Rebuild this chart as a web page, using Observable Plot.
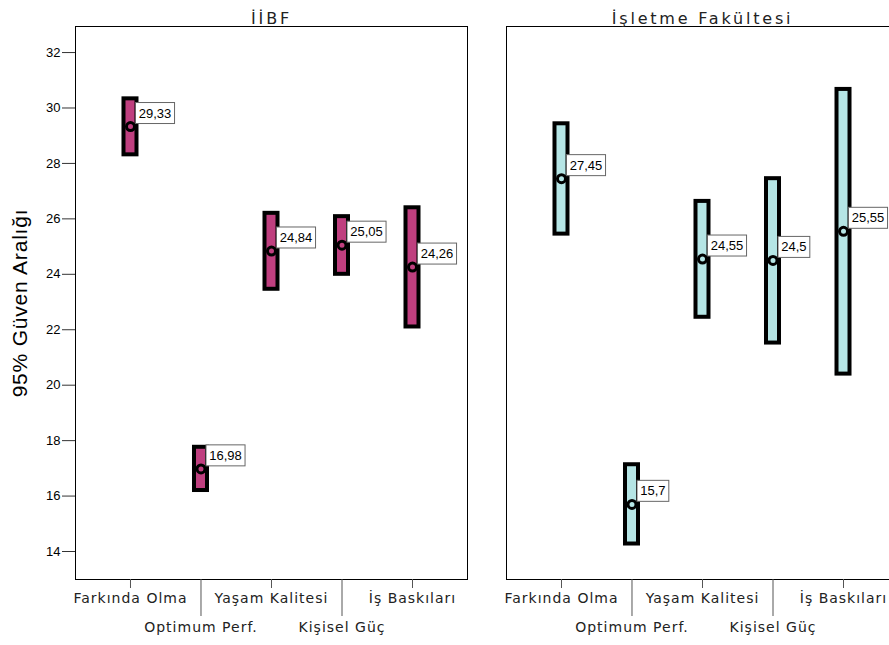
<!DOCTYPE html>
<html><head><meta charset="utf-8">
<script src="https://cdn.jsdelivr.net/npm/d3@7"></script>
<script src="https://cdn.jsdelivr.net/npm/@observablehq/plot@0.6"></script>
<style>
body{margin:0;background:#fff}
#chart{width:889px;height:645px;overflow:hidden}
#chart svg{max-width:none !important;height:645px !important}
#chart g[aria-label="y-axis label"]{font-size:21px;font-family:'Liberation Sans',Arial,sans-serif;letter-spacing:0.8px}
#chart g[aria-label="y-axis tick label"]{font-size:13px;font-family:'Liberation Sans',Arial,sans-serif}
#chart g[aria-label="x-axis tick label"]{font-size:14px;font-family:'DejaVu Sans',Verdana,sans-serif;letter-spacing:1px}
#chart g[aria-label="fx-axis tick label"]{font-size:16px;font-family:'DejaVu Sans',Verdana,sans-serif;letter-spacing:2.8px}
#chart g[aria-label="text"]{font-size:13px;font-family:'Liberation Sans',Arial,sans-serif}
</style>
</head><body><div id="chart"></div>
<script>
const faculties = ["İİBF", "İşletme Fakültesi"];
const categories = ["Farkında Olma", "Optimum Perf.", "Yaşam Kalitesi", "Kişisel Güç", "İş Baskıları"];
const upperRow = ["Farkında Olma", "Yaşam Kalitesi", "İş Baskıları"];
const lowerRow = ["Optimum Perf.", "Kişisel Güç"];
const yTicks = [14, 16, 18, 20, 22, 24, 26, 28, 30, 32];

const iibfMean = [29.33, 16.98, 24.84, 25.05, 24.26];
const iibfLow  = [28.31, 16.20, 23.46, 24.00, 22.10];
const iibfHigh = [30.33, 17.76, 26.20, 26.08, 26.40];

const isletmeMean = [27.45, 15.70, 24.55, 24.50, 25.55];
const isletmeLow  = [25.45, 14.27, 22.45, 21.52, 20.40];
const isletmeHigh = [29.43, 17.13, 26.63, 27.45, 30.67];

const fillColors = ["#bf3f7f", "#b5e5e5"];

const rows = [];
categories.forEach((c, i) => {
  rows.push({faculty: faculties[0], category: c, mean: iibfMean[i], low: iibfLow[i], high: iibfHigh[i]});
  rows.push({faculty: faculties[1], category: c, mean: isletmeMean[i], low: isletmeLow[i], high: isletmeHigh[i]});
});
const fmt = v => String(v).replace(".", ",");

const plot = Plot.plot({
  width: 900, height: 645,
  marginLeft: 75, marginRight: 2, marginTop: 26, marginBottom: 66,
  style: {fontFamily: "'Liberation Sans', Arial, sans-serif", fontSize: "12px", color: "#000", background: "white", overflow: "visible", maxWidth: "none"},
  fx: {domain: faculties, paddingInner: 0.0905, paddingOuter: 0, round: false, label: null},
  x: {type: "band", domain: categories, paddingInner: 0, paddingOuter: 0.28, round: false, label: null},
  y: {domain: [12.99, 32.94], label: "95% Güven Aralığı"},
  color: {domain: faculties, range: fillColors},
  marks: [
    Plot.frame({stroke: "black", strokeWidth: 1}),
    Plot.axisFx({anchor: "top", tickSize: 0, tickPadding: 3, fill: "#222", label: null}),
    Plot.axisY(yTicks, {anchor: "left", tickSize: 13, tickPadding: 2, stroke: "#333", fill: "black", label: "95% Güven Aralığı", labelAnchor: "center", labelArrow: "none", labelOffset: 63}),
    Plot.axisX(upperRow, {anchor: "bottom", tickSize: 9, tickPadding: 5, stroke: "#555", fill: "#222", label: null}),
    Plot.axisX(lowerRow, {anchor: "bottom", tickSize: 37, tickPadding: 6, stroke: "#555", fill: "#222", label: null}),
    Plot.barY(rows, {fx: "faculty", x: "category", y1: "low", y2: "high", fill: "faculty", stroke: "black", strokeWidth: 4, insetLeft: 28.75, insetRight: 28.75}),
    Plot.dot(rows, {fx: "faculty", x: "category", y: "mean", r: 4, fill: "faculty", stroke: "black", strokeWidth: 3}),
    Plot.text(rows, {fx: "faculty", x: "category", y: "mean", text: d => fmt(d.mean), textAnchor: "start", lineAnchor: "middle", dx: 8.25, dy: -13.2, fill: "black"})
  ]
});
document.getElementById("chart").appendChild(plot);

// white label boxes sized to the rendered value labels
plot.querySelectorAll('g[aria-label="text"] text').forEach(t => {
  const b = t.getBBox();
  const r = document.createElementNS("http://www.w3.org/2000/svg", "rect");
  r.setAttribute("x", b.x - 3.25);
  r.setAttribute("y", b.y - 3);
  r.setAttribute("width", b.width + 6.5);
  r.setAttribute("height", b.height + 6);
  r.setAttribute("fill", "white");
  r.setAttribute("stroke", "#666");
  r.setAttribute("stroke-width", 1);
  const tr = t.getAttribute("transform");
  if (tr) r.setAttribute("transform", tr);
  t.parentNode.insertBefore(r, t);
});
</script>
</body></html>
